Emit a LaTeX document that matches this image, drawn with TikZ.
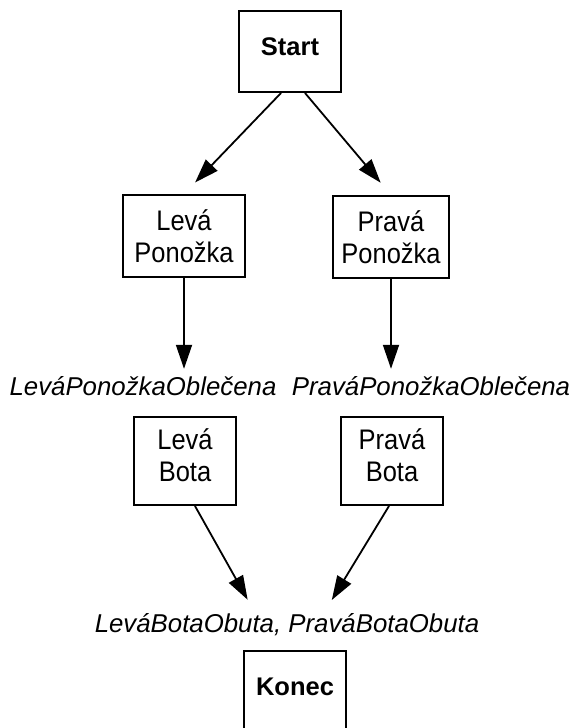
\documentclass[tikz,border=0pt]{standalone}
\usepackage{fontspec}
\setmainfont{Liberation Sans}
\newfontfamily\boxfont[FakeStretch=0.9]{Liberation Sans}
\usetikzlibrary{arrows.meta}
\begin{document}
\begin{tikzpicture}[x=1pt,y=-1pt,
  box/.style={draw,line width=2pt,inner sep=0pt,align=center,
    font={\boxfont\fontsize{28.3}{31.5}\selectfont}},
  boldbox/.style={box,minimum width=102pt,minimum height=81pt,text depth=10pt,
    font={\fontsize{25.5}{31}\selectfont\bfseries}},
  cond/.style={inner sep=0pt,anchor=base,
    font={\fontsize{25.8}{31}\selectfont\itshape}},
  arr/.style={line width=1.8pt,-{Triangle[length=24pt,width=16pt]}},
]
\useasboundingbox (0,0) rectangle (577,728);

% activity boxes
\node[boldbox] (start) at (290,51.5) {Start};
\node[box,minimum width=122pt,minimum height=82pt] (lp) at (184,236) {Levá\\Ponožka};
\node[box,minimum width=116pt,minimum height=82pt] (pp) at (391,237) {Pravá\\Ponožka};
\node[box,minimum width=102pt,minimum height=88pt,text depth=12pt] (lb) at (185,461) {Levá\\Bota};
\node[box,minimum width=102pt,minimum height=88pt,text depth=12pt] (pb) at (392,461) {Pravá\\Bota};
\node[boldbox] (konec) at (295,691.5) {Konec};

% conditions between the steps
\node[cond] (l1) at (143,395) {LeváPonožkaOblečena};
\node[cond] (l2) at (431,395) {PraváPonožkaOblečena};
\node[cond] (l3) at (287,632) {LeváBotaObuta, PraváBotaObuta};

% connectors
\draw[arr,shorten >=16pt] ([xshift=-9pt]start.south) -- (lp.north);
\draw[arr,shorten >=16pt] ([xshift=15pt]start.south) -- (pp.north);
\draw[arr,shorten >=7pt] (lp.south) -- (lp.south |- l1.north);
\draw[arr,shorten >=7pt] (pp.south) -- (pp.south |- l2.north);
\draw[arr,shorten >=15pt] ([xshift=10pt]lb.south) -- ([xshift=-32pt]l3.north);
\draw[arr,shorten >=15pt] ([xshift=-3pt]pb.south) -- ([xshift=37pt]l3.north);
\end{tikzpicture}
\end{document}
